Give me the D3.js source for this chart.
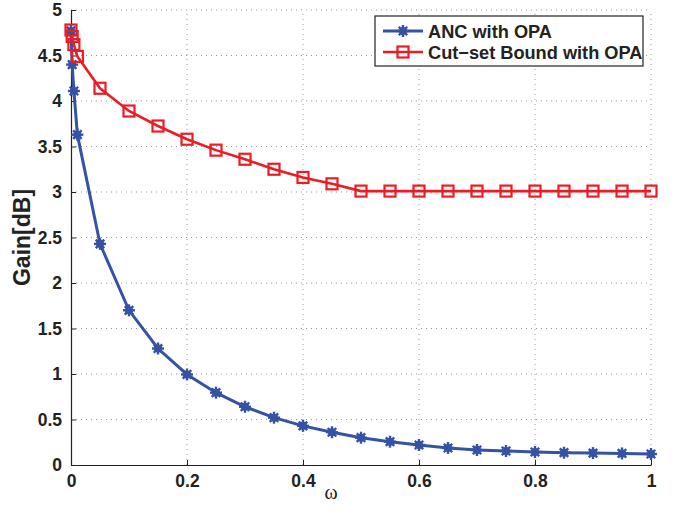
<!DOCTYPE html>
<html><head><meta charset="utf-8">
<script src="https://cdn.jsdelivr.net/npm/d3@7"></script>
<style>body{margin:0;background:#fff}svg{display:block}</style>
</head><body>
<script>
const omega = [0, 0.002, 0.005, 0.011, 0.05, 0.1, 0.15, 0.2, 0.25, 0.3, 0.35, 0.4, 0.45, 0.5, 0.55, 0.6, 0.65, 0.7, 0.75, 0.8, 0.85, 0.9, 0.95, 1];
const ancGain = [4.77, 4.40, 4.11, 3.63, 2.43, 1.70, 1.28, 0.995, 0.795, 0.64, 0.52, 0.43, 0.36, 0.30, 0.256, 0.22, 0.187, 0.165, 0.154, 0.143, 0.135, 0.131, 0.127, 0.121];
const cutsetGain = [4.78, 4.71, 4.62, 4.49, 4.14, 3.89, 3.725, 3.58, 3.46, 3.36, 3.25, 3.16, 3.09, 3.01, 3.01, 3.01, 3.01, 3.01, 3.01, 3.01, 3.01, 3.01, 3.01, 3.01];
const xTicks = [0, 0.2, 0.4, 0.6, 0.8, 1];
const yTicks = [0, 0.5, 1, 1.5, 2, 2.5, 3, 3.5, 4, 4.5, 5];
const seriesNames = ["ANC with OPA", "Cut\u2212set Bound with OPA"];

const W = 678, H = 515;
const L = 71, R = 651, T = 10, B = 465;
const blue = "#3553a5", red = "#ec1c24";
const font = "Liberation Sans, Arial, Helvetica, sans-serif";

const svg = d3.select("body").append("svg").attr("width", W).attr("height", H);
const x = d3.scaleLinear().domain([0, 1]).range([L, R]);
const y = d3.scaleLinear().domain([0, 5]).range([B, T]);

// grid
const g = svg.append("g");
g.selectAll(".gx").data(xTicks.slice(1)).enter().append("line")
  .attr("x1", d => x(d)).attr("x2", d => x(d)).attr("y1", B).attr("y2", T)
  .attr("stroke", "#999").attr("stroke-width", 1).attr("stroke-dasharray", "1,4");
g.selectAll(".gy").data(yTicks.slice(1)).enter().append("line")
  .attr("x1", L).attr("x2", R).attr("y1", d => y(d)).attr("y2", d => y(d))
  .attr("stroke", "#999").attr("stroke-width", 1).attr("stroke-dasharray", "1,4");

// axes
const xAxis = d3.axisBottom(x).tickValues(xTicks).tickFormat(d => d).tickSizeInner(-5).tickSizeOuter(0).tickPadding(10);
const yAxis = d3.axisLeft(y).tickValues(yTicks).tickFormat(d => d).tickSizeInner(-5).tickSizeOuter(0).tickPadding(9);
const gx = svg.append("g").attr("transform", `translate(0,${B})`).call(xAxis);
const gy = svg.append("g").attr("transform", `translate(${L},0)`).call(yAxis);
[gx, gy].forEach(a => {
  a.select(".domain").attr("stroke", "#222").attr("stroke-width", 1.2);
  a.selectAll(".tick line").attr("stroke", "#222");
  a.selectAll("text").attr("font-family", font).attr("font-weight", "bold").attr("font-size", 17.5).attr("fill", "#222");
});

// lines
const line = d3.line().x((d, i) => x(omega[i])).y(d => y(d));
svg.append("path").datum(ancGain).attr("d", line).attr("fill", "none").attr("stroke", blue).attr("stroke-width", 3);
svg.append("path").datum(cutsetGain).attr("d", line).attr("fill", "none").attr("stroke", red).attr("stroke-width", 2.6);

function star(sel, cx, cy) {
  const r = 6;
  const gg = sel.append("g").attr("transform", `translate(${cx},${cy})`);
  gg.append("circle").attr("r", 4).attr("fill", blue);
  [0, 45, 90, 135].forEach(a => {
    const rad = a * Math.PI / 180;
    gg.append("line").attr("x1", -r * Math.cos(rad)).attr("y1", -r * Math.sin(rad))
      .attr("x2", r * Math.cos(rad)).attr("y2", r * Math.sin(rad))
      .attr("stroke", blue).attr("stroke-width", 2.4);
  });
}
function square(sel, cx, cy) {
  sel.append("rect").attr("x", cx - 5.5).attr("y", cy - 5.5).attr("width", 11).attr("height", 11)
    .attr("fill", "none").attr("stroke", red).attr("stroke-width", 2.2);
}
const mb = svg.append("g");
ancGain.forEach((v, i) => star(mb, x(omega[i]), y(v)));
const mr = svg.append("g");
cutsetGain.forEach((v, i) => square(mr, x(omega[i]), y(v)));

// axis labels
svg.append("text").attr("transform", `translate(30,${(T + B) / 2}) rotate(-90)`)
  .attr("text-anchor", "middle").attr("font-family", font).attr("font-weight", "bold")
  .attr("font-size", 23).attr("fill", "#222").text("Gain[dB]");
svg.append("text").attr("x", 331).attr("y", 499).attr("text-anchor", "middle")
  .attr("font-family", "Liberation Serif, Times New Roman, serif").attr("font-size", 20).attr("fill", "#222").text("\u03c9");

// legend
const lg = svg.append("g");
lg.append("rect").attr("x", 375).attr("y", 16).attr("width", 268).attr("height", 50)
  .attr("fill", "#fff").attr("stroke", "#222").attr("stroke-width", 1.2);
const rows = [31, 52];
lg.append("line").attr("x1", 383).attr("x2", 423).attr("y1", rows[0]).attr("y2", rows[0]).attr("stroke", blue).attr("stroke-width", 3);
star(lg, 403, rows[0]);
lg.append("line").attr("x1", 383).attr("x2", 423).attr("y1", rows[1]).attr("y2", rows[1]).attr("stroke", red).attr("stroke-width", 2.6);
square(lg, 403, rows[1]);
seriesNames.forEach((n, i) => {
  lg.append("text").attr("x", 428).attr("y", rows[i] + 6.5).attr("font-family", font).attr("font-weight", "bold")
    .attr("font-size", 18.2).attr("fill", "#222").text(n);
});
</script>
</body></html>
